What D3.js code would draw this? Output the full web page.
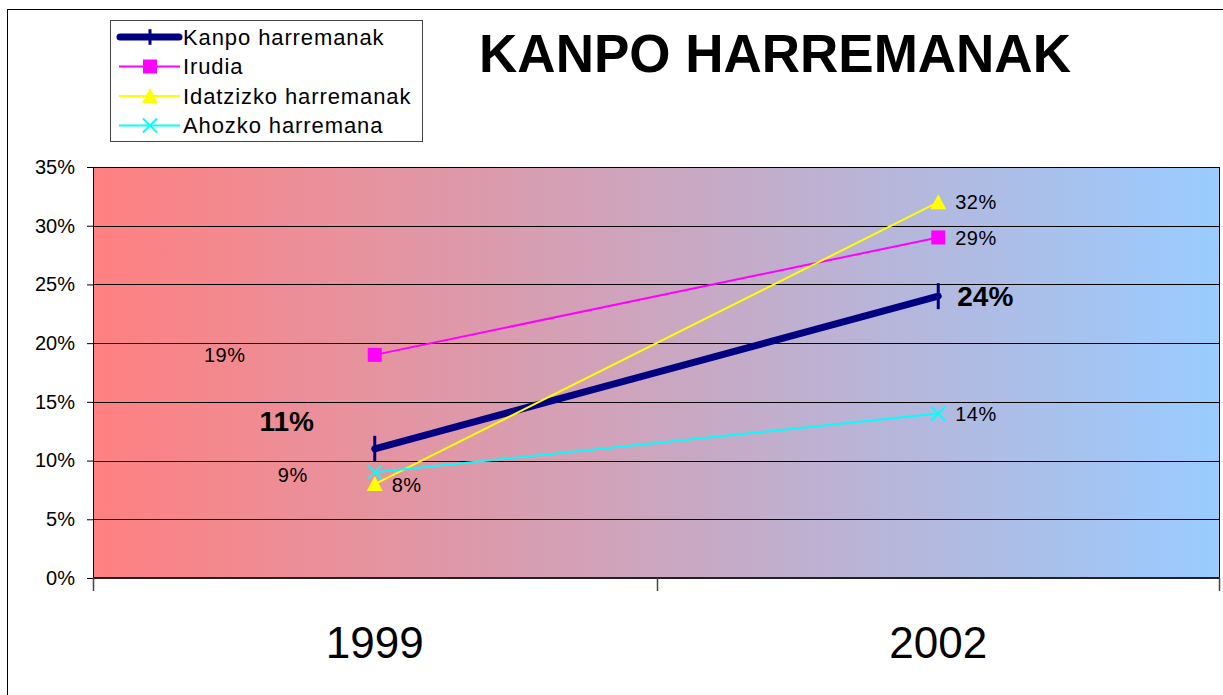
<!DOCTYPE html>
<html>
<head>
<meta charset="utf-8">
<script src="https://d3js.org/d3.v7.min.js"></script>
<style>
  body { margin: 0; background: #fff; }
  text { font-family: Arial, "Liberation Sans", sans-serif; }
</style>
</head>
<body>
<script>

// chart data
var years = ["1999", "2002"];
var seriesNames = ["Kanpo harremanak", "Irudia", "Idatzizko harremanak", "Ahozko harremana"];
var kanpo = [11, 24];
var irudia = [19, 29];
var idatzizko = [8, 32];
var ahozko = [9, 14];
var yTicks = [0, 5, 10, 15, 20, 25, 30, 35];

// styling per series (not data)
var styles = [
  {color: "#000080", width: 7, marker: "dash", bold: true},
  {color: "#FF00FF", width: 2, marker: "square"},
  {color: "#FFFF00", width: 2, marker: "triangle"},
  {color: "#00FFFF", width: 2, marker: "cross"}
];
// label offsets for the first year (dx, dy)
var labelOff1999 = [[-88, -28], [-150, 0], [17, 1], [-82, 2]];

var series = [kanpo, irudia, idatzizko, ahozko].map(function(v, i) {
  return {name: seriesNames[i], values: v, style: styles[i]};
});

var W = 1223, H = 695;
var margin = {top: 167, right: 3, bottom: 117, left: 93},
    width = W - margin.left - margin.right,
    height = H - margin.top - margin.bottom;

var svg = d3.select("body").append("svg")
    .attr("width", W)
    .attr("height", H);

// outer chart border
svg.append("rect")
    .attr("x", 7.5).attr("y", 9.5)
    .attr("width", W + 20).attr("height", H + 20)
    .attr("fill", "#fff").attr("stroke", "#000").attr("stroke-width", 1);

var defs = svg.append("defs");
var grad = defs.append("linearGradient").attr("id", "bg")
    .attr("x1", "0%").attr("x2", "100%").attr("y1", "0%").attr("y2", "0%");
grad.append("stop").attr("offset", "0%").attr("stop-color", "#FF8080");
grad.append("stop").attr("offset", "100%").attr("stop-color", "#99CCFF");

var g = svg.append("g")
    .attr("transform", "translate(" + margin.left + "," + margin.top + ")");

var x = d3.scaleBand().domain(years).range([0, width]);
var y = d3.scaleLinear().domain([0, 35]).range([height, 0]);

g.append("rect")
    .attr("width", width).attr("height", height)
    .attr("fill", "url(#bg)");

// gridlines
g.append("g").selectAll("line")
  .data(yTicks)
  .join("line")
    .attr("x1", 0).attr("x2", width)
    .attr("y1", function(d) { return Math.round(y(d)) + 0.5; })
    .attr("y2", function(d) { return Math.round(y(d)) + 0.5; })
    .attr("stroke", "#000").attr("stroke-width", 1);

// plot border
g.append("rect")
    .attr("x", 0.5).attr("y", 0.5)
    .attr("width", width - 1).attr("height", height)
    .attr("fill", "none").attr("stroke", "#000");

// Y axis
var yAxis = d3.axisLeft(y).tickValues(yTicks)
    .tickSize(6).tickPadding(12)
    .tickFormat(function(d) { return d + "%"; });
var ya = g.append("g").call(yAxis);
ya.select(".domain").attr("stroke", "#000");
ya.selectAll(".tick line").attr("stroke", "#000");
ya.selectAll("text").attr("font-size", "20px").attr("fill", "#000")
    .attr("font-family", "Arial, 'Liberation Sans', sans-serif");

// X axis (ticks at category boundaries)
var xa = g.append("g").attr("transform", "translate(0," + height + ")");
xa.append("line").attr("x1", 0).attr("x2", width)
    .attr("y1", 0).attr("y2", 0).attr("stroke", "#222").attr("stroke-width", 2);
var bounds = [0].concat(years.map(function(d) { return x(d) + x.bandwidth(); }));
xa.selectAll(".xt").data(bounds).join("line")
    .attr("class", "xt")
    .attr("x1", function(d) { return Math.min(Math.round(d), width - 1) + 0.5; })
    .attr("x2", function(d) { return Math.min(Math.round(d), width - 1) + 0.5; })
    .attr("y1", 0).attr("y2", 13)
    .attr("stroke", "#444").attr("stroke-width", 1.5);
xa.selectAll(".xl").data(years).join("text")
    .attr("class", "xl")
    .attr("x", function(d) { return x(d) + x.bandwidth() / 2; })
    .attr("y", 80)
    .attr("text-anchor", "middle")
    .attr("font-size", "44px")
    .text(function(d) { return d; });

var cx = function(i) { return x(years[i]) + x.bandwidth() / 2; };

var line = d3.line()
    .x(function(d, i) { return cx(i); })
    .y(function(d) { return y(d); });

function drawMarker(sel, type, color, px, py, scale) {
  scale = scale || 1;
  if (type === "dash") {
    sel.append("line")
      .attr("x1", px).attr("x2", px)
      .attr("y1", py - 13 * scale).attr("y2", py + 13 * scale)
      .attr("stroke", color).attr("stroke-width", 3);
  } else if (type === "square") {
    sel.append("rect")
      .attr("x", px - 7).attr("y", py - 7)
      .attr("width", 14).attr("height", 14)
      .attr("fill", color);
  } else if (type === "triangle") {
    sel.append("path")
      .attr("d", "M" + px + "," + (py - 8) + "L" + (px + 8) + "," + (py + 7) + "L" + (px - 8) + "," + (py + 7) + "Z")
      .attr("fill", color);
  } else if (type === "cross") {
    sel.append("path")
      .attr("d", "M" + (px - 7) + "," + (py - 7) + "L" + (px + 7) + "," + (py + 7) +
                 "M" + (px + 7) + "," + (py - 7) + "L" + (px - 7) + "," + (py + 7))
      .attr("stroke", color).attr("stroke-width", 2).attr("fill", "none");
  }
}

series.forEach(function(s, si) {
  var sg = g.append("g");
  sg.append("path")
    .datum(s.values)
    .attr("fill", "none")
    .attr("stroke", s.style.color)
    .attr("stroke-width", s.style.width)
    .attr("stroke-linecap", "round")
    .attr("d", line);
  s.values.forEach(function(v, i) {
    drawMarker(sg, s.style.marker, s.style.color, cx(i), y(v));
  });
});

// data labels
series.forEach(function(s, si) {
  s.values.forEach(function(v, i) {
    var px = cx(i), py = y(v);
    var lx, ly, anchor;
    if (i === 0) {
      lx = px + labelOff1999[si][0];
      ly = py + labelOff1999[si][1];
      anchor = si === 2 ? "start" : "middle";
    } else {
      lx = px + (s.style.bold ? 19 : 17);
      ly = py;
      anchor = "start";
    }
    g.append("text")
      .attr("x", lx).attr("y", ly)
      .attr("dy", "0.36em")
      .attr("text-anchor", anchor)
      .attr("font-size", s.style.bold ? "28px" : "20px")
      .attr("letter-spacing", s.style.bold ? "0px" : "0.5px")
      .attr("font-weight", s.style.bold ? "bold" : "normal")
      .text(v + "%");
  });
});

// title
svg.append("text")
    .attr("x", 775).attr("y", 72)
    .attr("text-anchor", "middle")
    .attr("font-size", "53px")
    .attr("font-weight", "bold")
    .text("KANPO HARREMANAK");

// legend
var leg = svg.append("g").attr("transform", "translate(110,20)");
leg.append("rect")
    .attr("x", 0.5).attr("y", 0.5)
    .attr("width", 312).attr("height", 121)
    .attr("fill", "#fff").attr("stroke", "#444").attr("stroke-width", 1);
series.forEach(function(s, i) {
  var ly = 17 + i * 29.5;
  var lg = leg.append("g");
  lg.append("line")
    .attr("x1", s.style.bold ? 10 : 9).attr("x2", s.style.bold ? 69 : 70)
    .attr("y1", ly).attr("y2", ly)
    .attr("stroke", s.style.color)
    .attr("stroke-width", s.style.bold ? 7 : 2)
    .attr("stroke-linecap", s.style.bold ? "round" : "butt");
  drawMarker(lg, s.style.marker, s.style.color, 40, ly, 0.6);
  lg.append("text")
    .attr("x", 73).attr("y", ly)
    .attr("dy", "0.36em")
    .attr("font-size", "22px")
    .attr("letter-spacing", "0.9px")
    .text(s.name);
});

</script>
</body>
</html>
